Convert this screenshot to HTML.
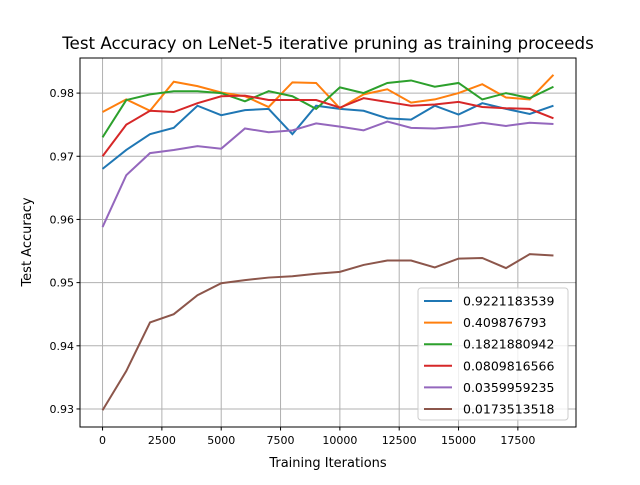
<!DOCTYPE html>
<html><head><meta charset="utf-8"><style>
body{margin:0;background:#fff}
text{font-family:"DejaVu Sans","Liberation Sans",sans-serif;fill:#000}
</style></head><body>
<svg id="chart" width="640" height="480" xmlns="http://www.w3.org/2000/svg">
<rect width="640" height="480" fill="#fff"/>
<g id="grid"></g><g id="series"></g><g id="axes"></g><g id="legend"></g>
<text x="328" y="49" font-size="16.7" text-anchor="middle">Test Accuracy on LeNet-5 iterative pruning as training proceeds</text>
<text x="328" y="467" font-size="13" text-anchor="middle">Training Iterations</text>
<text transform="translate(31,242) rotate(-90)" font-size="13" text-anchor="middle">Test Accuracy</text>
</svg>
<script>
const iterations=[0,1000,2000,3000,4000,5000,6000,7000,8000,9000,10000,11000,12000,13000,14000,15000,16000,17000,18000,19000];
const seriesLabels=["0.9221183539","0.409876793","0.1821880942","0.0809816566","0.0359959235","0.0173513518"];
const colors=["#1f77b4","#ff7f0e","#2ca02c","#d62728","#9467bd","#8c564b"];
const s0=[0.968,0.971,0.9735,0.9745,0.978,0.9765,0.9773,0.9775,0.9735,0.978,0.9775,0.9772,0.976,0.9758,0.978,0.9766,0.9784,0.9775,0.9767,0.978];
const s1=[0.977,0.979,0.9772,0.9818,0.9811,0.9801,0.9795,0.9778,0.9817,0.9816,0.9776,0.9798,0.9806,0.9785,0.979,0.980,0.9814,0.9793,0.979,0.9829];
const s2=[0.973,0.9789,0.9798,0.9803,0.9803,0.980,0.9787,0.9803,0.9795,0.9775,0.9809,0.98,0.9816,0.982,0.981,0.9816,0.979,0.98,0.9792,0.981];
const s3=[0.970,0.975,0.9772,0.977,0.9784,0.9795,0.9796,0.9789,0.9789,0.9789,0.9777,0.9792,0.9786,0.978,0.9782,0.9786,0.9778,0.9776,0.9775,0.976];
const s4=[0.9588,0.967,0.9705,0.971,0.9716,0.9712,0.9744,0.9738,0.9741,0.9752,0.9747,0.9741,0.9755,0.9745,0.9744,0.9747,0.9753,0.9748,0.9753,0.9751];
const s5=[0.9298,0.936,0.9437,0.945,0.948,0.9499,0.9504,0.9508,0.951,0.9514,0.9517,0.9528,0.9535,0.9535,0.9524,0.9538,0.9539,0.9523,0.9545,0.9543];
const xTicks=[0,2500,5000,7500,10000,12500,15000,17500];
const yTicks=[0.93,0.94,0.95,0.96,0.97,0.98];
const NS="http://www.w3.org/2000/svg";
const L=80,R=576,T=58,B=427;
const allS=[s0,s1,s2,s3,s4,s5];
const xmin=Math.min(...iterations),xmax=Math.max(...iterations),xm=(xmax-xmin)*0.05;
const flat=allS.flat();const ymn=Math.min(...flat),ymx=Math.max(...flat),ym=(ymx-ymn)*0.05;
const x=v=>L+(v-(xmin-xm))/((xmax+xm)-(xmin-xm))*(R-L);
const y=v=>B-(v-(ymn-ym))/((ymx+ym)-(ymn-ym))*(B-T);
function mk(tag,attrs,parent){const e=document.createElementNS(NS,tag);for(const k in attrs)e.setAttribute(k,attrs[k]);document.getElementById(parent).appendChild(e);return e;}
xTicks.forEach(t=>{const X=x(t);
 const g=mk('line',{x1:X,x2:X,y1:T,y2:B,stroke:'#b0b0b0','stroke-width':1},'grid');
 
 
 mk('line',{x1:X,x2:X,y1:B,y2:B+3.5,stroke:'#000'},'axes');
 const tx=mk('text',{x:X,y:B+17,'font-size':11,'text-anchor':'middle'},'axes');tx.textContent=t;
 
 
});
yTicks.forEach(t=>{const Y=y(t);
 const g=mk('line',{x1:L,x2:R,y1:Y,y2:Y,stroke:'#b0b0b0','stroke-width':1},'grid');
 
 
 mk('line',{x1:L-3.5,x2:L,y1:Y,y2:Y,stroke:'#000'},'axes');
 const tx=mk('text',{x:L-6,y:Y+4,'font-size':11,'text-anchor':'end'},'axes');tx.textContent=t.toFixed(2);
 
 
});
const fr=mk('rect',{x:L,y:T,width:R-L,height:B-T,fill:'none',stroke:'#000','stroke-width':1},'axes');


allS.forEach((s,i)=>{
 const p=mk('polyline',{points:s.map((v,j)=>x(iterations[j])+','+y(v)).join(' '),fill:'none',stroke:colors[i],'stroke-width':2},'series');
 
 
});
const lb=mk('rect',{x:418,y:288,width:150,height:132,rx:3,fill:'#fff','fill-opacity':0.8,stroke:'#ccc'},'legend');


seriesLabels.forEach((lab,i)=>{const Y=301+i*21.6;
 mk('line',{x1:424,x2:452,y1:Y,y2:Y,stroke:colors[i],'stroke-width':2},'legend');
 const t=mk('text',{x:463,y:Y+4.5,'font-size':12.5},'legend');t.textContent=lab;
 
 
});
</script>
</body></html>
